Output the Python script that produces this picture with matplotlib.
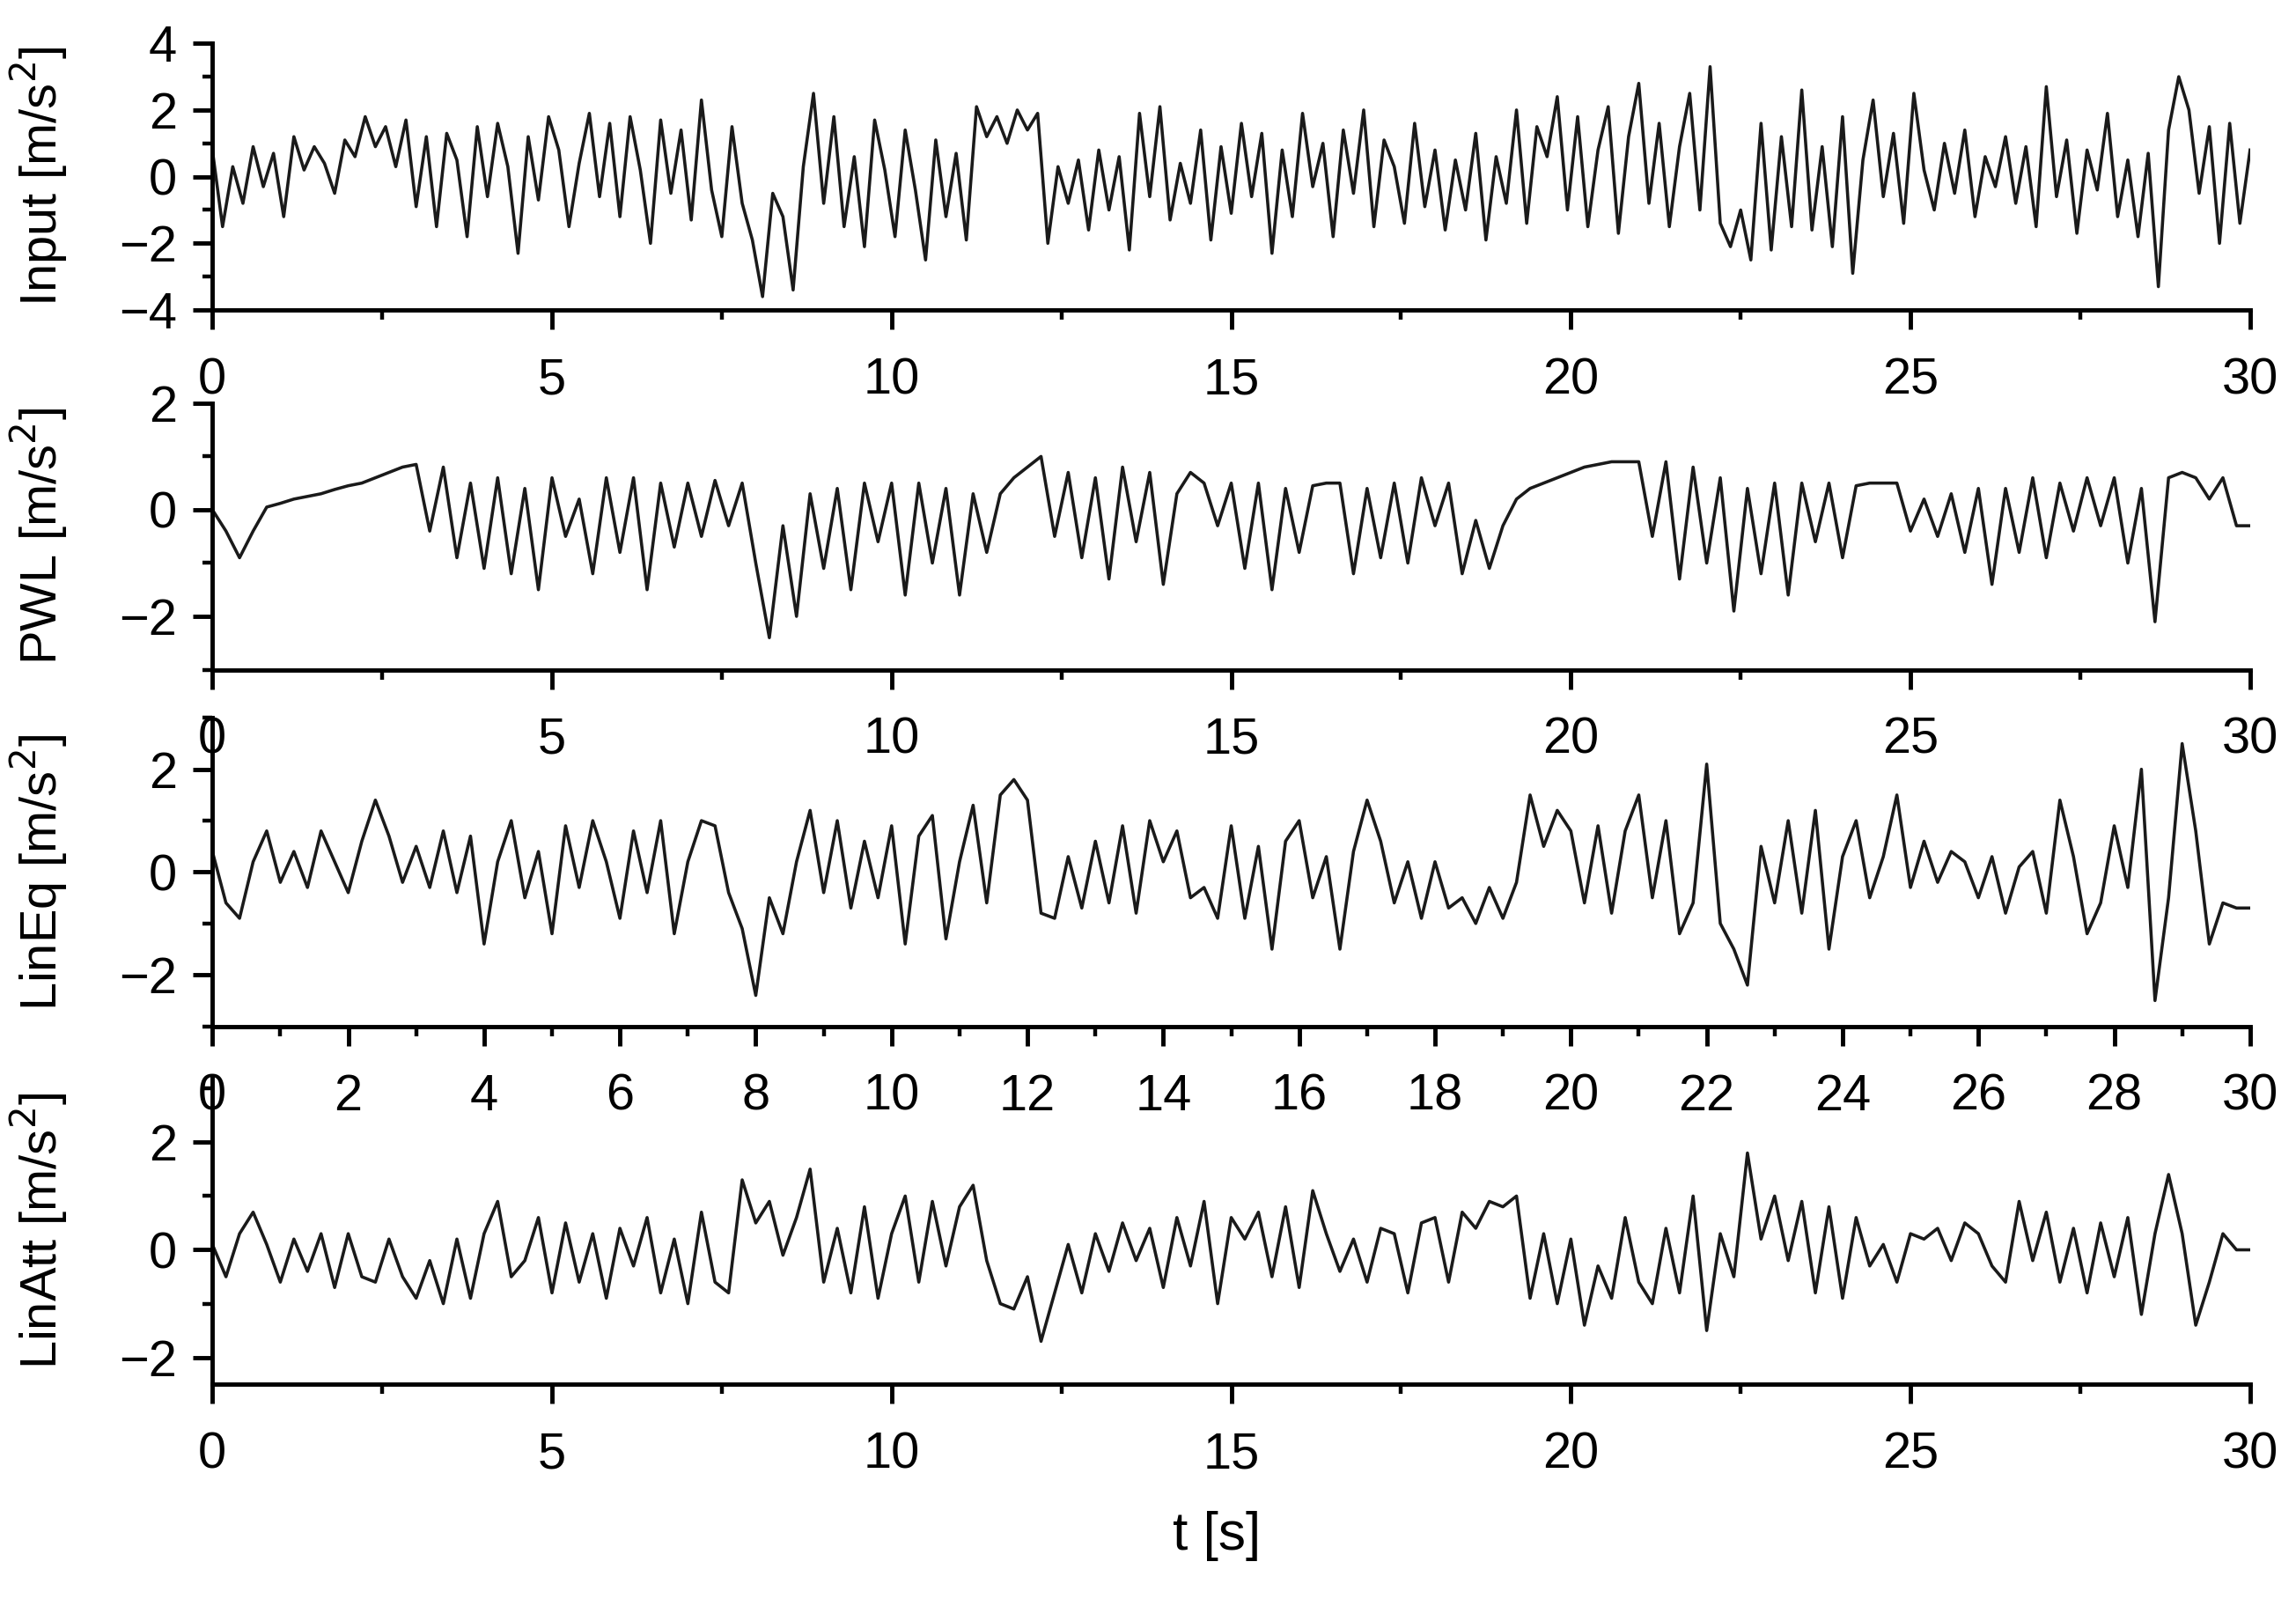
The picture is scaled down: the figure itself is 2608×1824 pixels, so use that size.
import numpy as np
import matplotlib.pyplot as plt
from matplotlib.ticker import MultipleLocator

plt.rcParams['font.family'] = ['Liberation Sans', 'DejaVu Sans']

# input acceleration, sampled every 0.15 s
input_acc = [
    0.8, -1.5, 0.3, -0.8, 0.9, -0.3, 0.7, -1.2, 1.2, 0.2, 0.9, 0.4, -0.5, 1.1, 0.6, 1.8, 0.9, 1.5, 0.3, 1.7,
    -0.9, 1.2, -1.5, 1.3, 0.5, -1.8, 1.5, -0.6, 1.6, 0.3, -2.3, 1.2, -0.7, 1.8, 0.8, -1.5, 0.4, 1.9, -0.6, 1.6,
    -1.2, 1.8, 0.2, -2.0, 1.7, -0.5, 1.4, -1.3, 2.3, -0.4, -1.8, 1.5, -0.8, -1.9, -3.6, -0.5, -1.2, -3.4, 0.3, 2.5,
    -0.8, 1.8, -1.5, 0.6, -2.1, 1.7, 0.2, -1.8, 1.4, -0.4, -2.5, 1.1, -1.2, 0.7, -1.9, 2.1, 1.2, 1.8, 1.0, 2.0,
    1.4, 1.9, -2.0, 0.3, -0.8, 0.5, -1.6, 0.8, -1.0, 0.6, -2.2, 1.9, -0.6, 2.1, -1.3, 0.4, -0.8, 1.4, -1.9, 0.9,
    -1.1, 1.6, -0.6, 1.3, -2.3, 0.8, -1.2, 1.9, -0.3, 1.0, -1.8, 1.4, -0.5, 2.0, -1.5, 1.1, 0.3, -1.4, 1.6, -0.9,
    0.8, -1.6, 0.5, -1.0, 1.3, -1.9, 0.6, -0.8, 2.0, -1.4, 1.5, 0.6, 2.4, -1.0, 1.8, -1.5, 0.8, 2.1, -1.7, 1.2,
    2.8, -0.8, 1.6, -1.5, 0.9, 2.5, -1.0, 3.3, -1.4, -2.1, -1.0, -2.5, 1.6, -2.2, 1.2, -1.5, 2.6, -1.6, 0.9, -2.1,
    1.8, -2.9, 0.5, 2.3, -0.6, 1.3, -1.4, 2.5, 0.2, -1.0, 1.0, -0.5, 1.4, -1.2, 0.6, -0.3, 1.2, -0.8, 0.9, -1.5,
    2.7, -0.6, 1.1, -1.7, 0.8, -0.4, 1.9, -1.2, 0.5, -1.8, 0.7, -3.3, 1.4, 3.0, 2.0, -0.5, 1.5, -2.0, 1.6, -1.4, 0.8,
]

# responses, sampled every 0.2 s
pwl = [
    0, -0.4, -0.9, -0.4, 0.05, 0.12, 0.2, 0.25, 0.3, 0.38, 0.45, 0.5, 0.6, 0.7, 0.8,
    0.85, -0.4, 0.8, -0.9, 0.5, -1.1, 0.6, -1.2, 0.4, -1.5, 0.6, -0.5, 0.2, -1.2, 0.6,
    -0.8, 0.6, -1.5, 0.5, -0.7, 0.5, -0.5, 0.55, -0.3, 0.5, -1.0, -2.4, -0.3, -2.0, 0.3,
    -1.1, 0.4, -1.5, 0.5, -0.6, 0.5, -1.6, 0.5, -1.0, 0.4, -1.6, 0.3, -0.8, 0.3, 0.6,
    0.8, 1.0, -0.5, 0.7, -0.9, 0.6, -1.3, 0.8, -0.6, 0.7, -1.4, 0.3, 0.7, 0.5, -0.3,
    0.5, -1.1, 0.5, -1.5, 0.4, -0.8, 0.45, 0.5, 0.5, -1.2, 0.4, -0.9, 0.5, -1.0, 0.6,
    -0.3, 0.5, -1.2, -0.2, -1.1, -0.3, 0.2, 0.4, 0.5, 0.6, 0.7, 0.8, 0.85, 0.9, 0.9,
    0.9, -0.5, 0.9, -1.3, 0.8, -1.0, 0.6, -1.9, 0.4, -1.2, 0.5, -1.6, 0.5, -0.6, 0.5,
    -0.9, 0.45, 0.5, 0.5, 0.5, -0.4, 0.2, -0.5, 0.3, -0.8, 0.4, -1.4, 0.4, -0.8, 0.6,
    -0.9, 0.5, -0.4, 0.6, -0.3, 0.6, -1.0, 0.4, -2.1, 0.6, 0.7, 0.6, 0.2, 0.6, -0.3, -0.3,
]
lineq = [
    0.4, -0.6, -0.9, 0.2, 0.8, -0.2, 0.4, -0.3, 0.8, 0.2, -0.4, 0.6, 1.4, 0.7, -0.2,
    0.5, -0.3, 0.8, -0.4, 0.7, -1.4, 0.2, 1.0, -0.5, 0.4, -1.2, 0.9, -0.3, 1.0, 0.2,
    -0.9, 0.8, -0.4, 1.0, -1.2, 0.2, 1.0, 0.9, -0.4, -1.1, -2.4, -0.5, -1.2, 0.2, 1.2,
    -0.4, 1.0, -0.7, 0.6, -0.5, 0.9, -1.4, 0.7, 1.1, -1.3, 0.2, 1.3, -0.6, 1.5, 1.8,
    1.4, -0.8, -0.9, 0.3, -0.7, 0.6, -0.6, 0.9, -0.8, 1.0, 0.2, 0.8, -0.5, -0.3, -0.9,
    0.9, -0.9, 0.5, -1.5, 0.6, 1.0, -0.5, 0.3, -1.5, 0.4, 1.4, 0.6, -0.6, 0.2, -0.9,
    0.2, -0.7, -0.5, -1.0, -0.3, -0.9, -0.2, 1.5, 0.5, 1.2, 0.8, -0.6, 0.9, -0.8, 0.8,
    1.5, -0.5, 1.0, -1.2, -0.6, 2.1, -1.0, -1.5, -2.2, 0.5, -0.6, 1.0, -0.8, 1.2, -1.5,
    0.3, 1.0, -0.5, 0.3, 1.5, -0.3, 0.6, -0.2, 0.4, 0.2, -0.5, 0.3, -0.8, 0.1, 0.4,
    -0.8, 1.4, 0.3, -1.2, -0.6, 0.9, -0.3, 2.0, -2.5, -0.5, 2.5, 0.8, -1.4, -0.6, -0.7, -0.7,
]
linatt = [
    0.1, -0.5, 0.3, 0.7, 0.1, -0.6, 0.2, -0.4, 0.3, -0.7, 0.3, -0.5, -0.6, 0.2, -0.5,
    -0.9, -0.2, -1.0, 0.2, -0.9, 0.3, 0.9, -0.5, -0.2, 0.6, -0.8, 0.5, -0.6, 0.3, -0.9,
    0.4, -0.3, 0.6, -0.8, 0.2, -1.0, 0.7, -0.6, -0.8, 1.3, 0.5, 0.9, -0.1, 0.6, 1.5,
    -0.6, 0.4, -0.8, 0.8, -0.9, 0.3, 1.0, -0.6, 0.9, -0.3, 0.8, 1.2, -0.2, -1.0, -1.1,
    -0.5, -1.7, -0.8, 0.1, -0.8, 0.3, -0.4, 0.5, -0.2, 0.4, -0.7, 0.6, -0.3, 0.9, -1.0,
    0.6, 0.2, 0.7, -0.5, 0.8, -0.7, 1.1, 0.3, -0.4, 0.2, -0.6, 0.4, 0.3, -0.8, 0.5,
    0.6, -0.6, 0.7, 0.4, 0.9, 0.8, 1.0, -0.9, 0.3, -1.0, 0.2, -1.4, -0.3, -0.9, 0.6,
    -0.6, -1.0, 0.4, -0.8, 1.0, -1.5, 0.3, -0.5, 1.8, 0.2, 1.0, -0.2, 0.9, -0.8, 0.8,
    -0.9, 0.6, -0.3, 0.1, -0.6, 0.3, 0.2, 0.4, -0.2, 0.5, 0.3, -0.3, -0.6, 0.9, -0.2,
    0.7, -0.6, 0.4, -0.8, 0.5, -0.5, 0.6, -1.2, 0.3, 1.4, 0.3, -1.4, -0.6, 0.3, 0.0, 0.0,
]

labels = ['Input [m/s$^2$]', 'PWL [m/s$^2$]', 'LinEq [m/s$^2$]', 'LinAtt [m/s$^2$]']
series = [input_acc, pwl, lineq, linatt]
ylims = [(-4, 4), (-3, 2), (-3, 3), (-2.5, 3.2)]
# axes boxes: [bottom, top] in figure fraction
boxes = [(0.807, 0.973), (0.583, 0.749), (0.361, 0.553), (0.138, 0.329)]

fig = plt.figure(figsize=(16.3, 11.4), dpi=160)
for i, (ys, lab) in enumerate(zip(series, labels)):
    b, t = boxes[i]
    ax = fig.add_axes([0.0925, b, 0.8875, t - b])
    ax.patch.set_visible(False)  # keep tick labels of the panel above visible
    x = np.linspace(0, 30, len(ys))
    ax.plot(x, ys, color='#1a1a1a', lw=1.6)
    ax.set_xlim(0, 30)
    ax.set_ylim(*ylims[i])
    ax.spines['top'].set_visible(False)
    ax.spines['right'].set_visible(False)
    for s in ('left', 'bottom'):
        ax.spines[s].set_linewidth(2.2)
    if i == 2:
        ax.xaxis.set_major_locator(MultipleLocator(2))
        ax.xaxis.set_minor_locator(MultipleLocator(1))
    else:
        ax.xaxis.set_major_locator(MultipleLocator(5))
        ax.xaxis.set_minor_locator(MultipleLocator(2.5))
    ax.yaxis.set_major_locator(MultipleLocator(2))
    ax.yaxis.set_minor_locator(MultipleLocator(1))
    ax.tick_params(which='major', direction='out', length=10, width=2.2,
                   labelsize=26, pad=8)
    ax.tick_params(axis='x', which='major', pad=14)
    ax.tick_params(which='minor', direction='out', length=5, width=2.0)
    ax.set_ylabel(lab, fontsize=26)
    ax.yaxis.set_label_coords(-0.07, 0.5)

fig.text(0.53, 0.035, 't [s]', ha='center', fontsize=28)
fig.savefig('out.png', dpi=160)
